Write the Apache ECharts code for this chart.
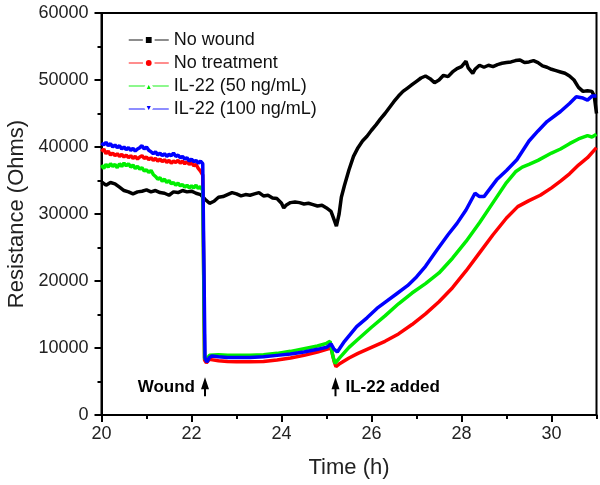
<!DOCTYPE html>
<html>
<head>
<meta charset="utf-8">
<script src="https://cdn.jsdelivr.net/npm/echarts@6/dist/echarts.min.js"></script>
<style>
html,body{margin:0;padding:0;background:#fff;}
#chart{width:600px;height:485px;}
</style>
</head>
<body>
<div id="chart"></div>
<script>
// ---- Data (time in hours, resistance in Ohms) ----
const seriesNames = ['No wound', 'No treatment', 'IL-22 (50 ng/mL)', 'IL-22 (100 ng/mL)'];

const noWoundTime = [20.0,20.1,20.2,20.3,20.4,20.5,20.6,20.7,20.8,20.9,21.0,21.1,21.2,21.3,21.4,21.5,21.6,21.7,21.8,21.9,22.0,22.1,22.2,22.3,22.4,22.5,22.6,22.7,22.8,22.9,23.0,23.1,23.2,23.3,23.4,23.5,23.6,23.7,23.8,23.9,24.0,24.05,24.1,24.2,24.3,24.4,24.5,24.6,24.7,24.8,24.9,25.0,25.1,25.15,25.22,25.28,25.33,25.4,25.5,25.6,25.7,25.8,25.9,26.0,26.1,26.2,26.3,26.4,26.5,26.6,26.7,26.8,26.9,27.0,27.1,27.2,27.3,27.4,27.5,27.6,27.7,27.8,27.9,28.0,28.1,28.15,28.25,28.3,28.4,28.5,28.6,28.7,28.8,28.9,29.0,29.1,29.2,29.3,29.4,29.5,29.6,29.7,29.8,29.9,30.0,30.1,30.2,30.3,30.4,30.5,30.6,30.7,30.8,30.9,30.95,31.0];
const noWoundOhms = [34800,34300,34700,34500,34000,33500,33300,33000,33300,33400,33600,33300,33500,33200,33100,32800,33300,33200,33500,33300,33400,33100,32900,32200,31600,31900,32500,32600,32900,33200,33000,32700,32900,32800,33000,33200,32700,32800,32400,32300,31600,30900,31300,31700,31800,31700,31500,31600,31400,31200,31300,30900,30400,29500,28200,30000,32500,34300,36600,38600,39900,40900,41600,42500,43300,44200,45000,45900,46800,47600,48300,48800,49300,49800,50300,50600,50200,49600,50000,50700,50500,51200,51700,52000,52800,51800,51000,51600,52200,51900,52200,52000,52300,52500,52600,52700,52900,53000,52600,52700,52900,52600,52100,51900,51600,51400,51200,51000,50600,50000,48900,48300,48400,48300,47600,45000];

// before wounding: common sampling times for the three wounded wells
const preWoundTime = [20.00,20.05,20.10,20.15,20.20,20.25,20.30,20.35,20.40,20.45,20.50,20.55,20.60,20.65,20.70,20.75,20.80,20.85,20.90,20.95,21.00,21.05,21.10,21.15,21.20,21.25,21.30,21.35,21.40,21.45,21.50,21.55,21.60,21.65,21.70,21.75,21.80,21.85,21.90,21.95,22.00,22.05,22.10,22.15,22.20,22.25];

const noTreatPreOhms = [39300,39700,39000,39400,38800,39100,38700,39000,38600,38900,38500,38800,38400,38700,38300,38600,38200,38500,38700,38300,38500,38100,38400,38000,38300,37900,38200,37800,38100,37700,38000,37600,37900,37700,38000,37600,37900,37500,37800,37400,37700,37200,37400,36800,36400,35800];
const noTreatPostTime = [22.29,22.33,22.4,22.6,22.8,23.0,23.3,23.6,23.9,24.2,24.5,24.8,25.0,25.1,25.17,25.21,25.3,25.5,25.7,26.0,26.3,26.6,26.9,27.2,27.5,27.8,28.1,28.4,28.7,29.0,29.25,29.5,29.75,30.0,30.2,30.4,30.6,30.8,31.0];
const noTreatPostOhms = [8200,7800,8300,8100,8000,7950,7950,8000,8200,8500,8900,9400,9800,10000,8000,7200,7700,8500,9200,10100,11000,12100,13500,15100,16900,19000,21500,24200,26900,29400,31100,32000,32800,33900,34900,36000,37300,38400,39900];

const il22LowPreOhms = [37300,36800,37400,37000,37500,37100,37400,36900,37500,37100,37600,37200,37500,37000,37300,36800,37100,36700,36900,36400,36600,36200,36500,35900,35600,35200,35400,34900,35200,34700,35000,34500,34700,34300,34600,34200,34400,34000,34300,33900,34200,33900,34300,33800,34100,33500];
const il22LowPostTime = [22.29,22.32,22.4,22.6,22.8,23.0,23.3,23.6,23.9,24.2,24.5,24.8,25.0,25.08,25.14,25.19,25.3,25.5,25.7,26.0,26.3,26.6,26.9,27.2,27.5,27.8,28.1,28.4,28.7,29.0,29.2,29.35,29.5,29.7,30.0,30.2,30.4,30.6,30.8,30.9,31.0];
const il22LowPostOhms = [8500,8200,8900,9000,8900,8900,8900,9000,9200,9500,9900,10300,10700,11000,8800,7700,8600,10100,11300,13100,14800,16600,18200,19600,21200,23400,25900,28700,31700,34700,36300,37000,37400,38000,39100,39700,40500,41200,41700,41500,41900];

const il22HighPreOhms = [40600,40300,40700,40200,40500,40000,40300,39900,40200,39700,40000,39600,39900,39500,39800,39400,39700,39900,40200,39700,40000,39500,39300,39000,39300,38800,39100,38700,39000,38600,38900,38700,39100,38600,38800,38400,38600,38200,38400,37900,38200,37800,38000,37600,37900,37500];
const il22HighPostTime = [22.3,22.34,22.4,22.45,22.6,22.8,23.0,23.3,23.6,23.9,24.2,24.5,24.8,25.0,25.1,25.16,25.24,25.4,25.67,25.9,26.12,26.3,26.56,26.8,27.0,27.2,27.45,27.7,27.9,28.1,28.3,28.4,28.5,28.78,29.0,29.23,29.5,29.7,29.9,30.2,30.4,30.55,30.7,30.8,30.9,31.0];
const il22HighPostOhms = [8500,7900,8600,8800,8700,8600,8600,8600,8700,8900,9100,9400,9800,10100,10600,9900,9400,11000,13200,14500,15900,16800,18100,19300,20600,22200,24600,26900,28600,30600,33100,32600,32600,35100,36500,38100,40900,42400,43800,45300,46500,47500,47300,47000,47600,47600];

const annotationTimes = [22.3, 25.2];
const annotationOhms = [4200, 4200];
const annotationLabels = ['Wound', 'IL-22 added'];

const xTicks = {min: 20, max: 31, major: 2, minor: 1};
const yTicks = {min: 0, max: 60000, major: 10000};

// ---- Chart ----
const FONT = "'Liberation Sans', Arial, sans-serif";
const zip = (t, v) => t.map((x, i) => [x, v[i]]);
const colors = ['#000000', '#ff0000', '#00ee00', '#0000ff'];
const symbols = ['rect', 'circle', 'triangle', 'path://M0,0 L10,0 L5,10 Z'];
const dataSets = [
  zip(noWoundTime, noWoundOhms),
  zip(preWoundTime, noTreatPreOhms).concat(zip(noTreatPostTime, noTreatPostOhms)),
  zip(preWoundTime, il22LowPreOhms).concat(zip(il22LowPostTime, il22LowPostOhms)),
  zip(preWoundTime, il22HighPreOhms).concat(zip(il22HighPostTime, il22HighPostOhms))
];
const arrowPath = 'path://M4,0 L8,12 L5,12 L5,19 L3,19 L3,12 L0,12 Z';

const series = dataSets.map((d, i) => ({
  name: seriesNames[i],
  type: 'line',
  data: d,
  xAxisIndex: 0,
  yAxisIndex: 0,
  showSymbol: false,
  symbol: symbols[i],
  color: colors[i],
  lineStyle: {width: 3.5, color: colors[i]},
  itemStyle: {color: colors[i]},
  z: 2 + i
}));

series[0].markPoint = {
  silent: true,
  animation: false,
  data: annotationTimes.map((t, i) => ({
    coord: [t, annotationOhms[i]],
    symbol: arrowPath,
    symbolSize: [8, 19],
    itemStyle: {color: '#000'},
    label: {
      show: true,
      position: i === 0 ? 'left' : 'right',
      distance: 6,
      formatter: annotationLabels[i],
      fontFamily: FONT,
      fontWeight: 'bold',
      fontSize: 17,
      color: '#000'
    }
  }))
};

const chart = echarts.init(document.getElementById('chart'), null, {renderer: 'canvas'});
chart.setOption({
  animation: false,
  backgroundColor: '#fff',
  grid: {left: 101.5, right: 3.5, top: 13, bottom: 70, containLabel: false, outerBoundsMode: 'none', show: true, borderColor: '#000', borderWidth: 2, backgroundColor: 'transparent'},
  legend: {
    orient: 'vertical',
    left: 123,
    top: 26,
    itemWidth: 40,
    itemHeight: 11,
    itemGap: 5,
    data: seriesNames,
    textStyle: {fontFamily: FONT, fontSize: 18, lineHeight: 18, color: '#111'},
    lineStyle: {width: 1.5, opacity: 0.6},
    itemStyle: {borderColor: '#fff', borderWidth: 3}
  },
  xAxis: [{
    type: 'value',
    min: xTicks.min, max: xTicks.max, interval: xTicks.major,
    position: 'bottom',
    name: 'Time (h)',
    nameLocation: 'middle',
    nameGap: 42,
    nameTextStyle: {fontFamily: FONT, fontSize: 22, color: '#222'},
    axisLine: {show: true, lineStyle: {color: '#000', width: 2}},
    axisTick: {show: true, length: 7, lineStyle: {color: '#000', width: 2}},
    axisLabel: {show: true, margin: 10, showMaxLabel: false, fontFamily: FONT, fontSize: 18, color: '#222'},
    splitLine: {show: false}
  }, {
    type: 'value',
    min: xTicks.min, max: xTicks.max, interval: xTicks.minor,
    position: 'bottom',
    axisLine: {show: false},
    axisTick: {show: true, length: 4, lineStyle: {color: '#000', width: 2}},
    axisLabel: {show: false},
    splitLine: {show: false}
  }],
  yAxis: [{
    type: 'value',
    min: yTicks.min, max: yTicks.max, interval: yTicks.major,
    name: 'Resistance (Ohms)',
    nameLocation: 'middle',
    nameGap: 74,
    nameTextStyle: {fontFamily: FONT, fontSize: 22, color: '#222'},
    axisLine: {show: true, lineStyle: {color: '#000', width: 2}},
    axisTick: {show: true, length: 7, lineStyle: {color: '#000', width: 2}},
    minorTick: {show: true, splitNumber: 2, length: 4, lineStyle: {color: '#000', width: 2}},
    axisLabel: {margin: 13, fontFamily: FONT, fontSize: 18, color: '#222', formatter: v => String(v)},
    splitLine: {show: false},
    minorSplitLine: {show: false}
  }],
  series: series
});
</script>
</body>
</html>
